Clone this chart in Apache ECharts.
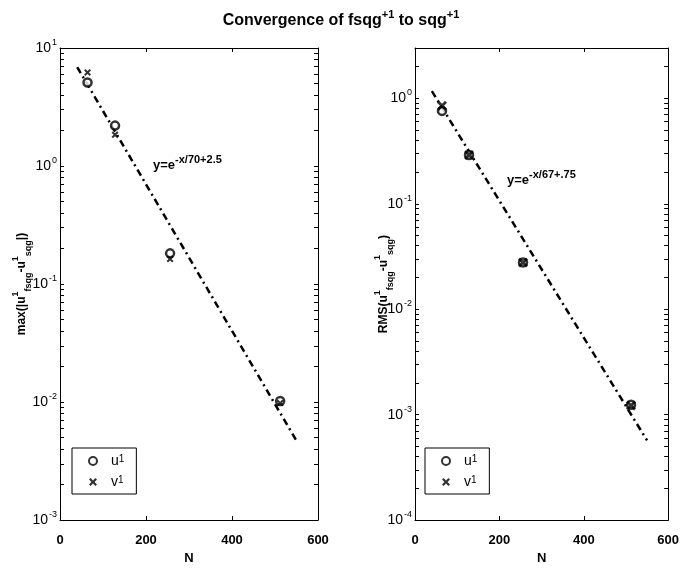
<!DOCTYPE html>
<html>
<head>
<meta charset="utf-8">
<script src="https://cdn.jsdelivr.net/npm/echarts@6/dist/echarts.min.js"></script>
<style>
  html, body { margin: 0; padding: 0; background: #fff; }
  #chart { width: 682px; height: 570px; }
</style>
</head>
<body>
<div id="chart"></div>
<script>
// resolution N
const nValues = [64, 128, 256, 512];
// left panel: max(|u1_fsqg - u1_sqg|)
const maxU = [5.1, 2.2, 0.182, 0.0102];
const maxV = [6.2, 1.84, 0.163, 0.0098];
// right panel: RMS(u1_fsqg - u1_sqg)
const rmsU = [0.76, 0.29, 0.0278, 0.00124];
const rmsV = [0.85, 0.29, 0.0278, 0.00122];
// fitted lines, read at both ends
const fitN = [40, 550];
const maxFit = [6.9, 0.0047];
const rmsFit = [1.17, 0.00057];
const xTicks = [0, 200, 400, 600];
const maxDecades = [0.001, 0.01, 0.1, 1, 10];
const rmsDecades = [0.0001, 0.001, 0.01, 0.1, 1];

const FONT = '"Liberation Sans", Arial, Helvetica, sans-serif';
const pts = (xs, ys) => xs.map((x, i) => [x, ys[i]]);
const crossPath = 'path://M0,2L2,0L5,3L8,0L10,2L7,5L10,8L8,10L5,7L2,10L0,8L3,5Z';

// log minor ticks (1..9 in every decade)
function logTicks(decades, max) {
  let out = [];
  decades.forEach(d => {
    for (let k = 1; k <= 9; k++) {
      let v = +(d * k).toPrecision(6);
      if (v <= max) out.push(v);
    }
  });
  return out;
}

const supRich = {
  b: { fontFamily: FONT, fontSize: 14, color: '#000', lineHeight: 20 },
  e: { fontFamily: FONT, fontSize: 9, color: '#000', verticalAlign: 'top', lineHeight: 12, padding: [0, 0, 0, 1] }
};

function xAxes(g) {
  let base = {
    gridIndex: g, type: 'value', min: xTicks[0], max: xTicks[xTicks.length - 1], interval: 200,
    axisLine: { onZero: false, lineStyle: { color: '#000', width: 1 } },
    axisTick: { inside: true, length: 4, lineStyle: { color: '#000' } },
    splitLine: { show: false }
  };
  return [
    Object.assign({}, base, {
      position: 'bottom',
      axisLabel: { color: '#000', fontFamily: FONT, fontSize: 13, fontWeight: 'bold', margin: 14 },
      name: 'N', nameLocation: 'middle', nameGap: 29,
      nameTextStyle: { color: '#000', fontFamily: FONT, fontSize: 13, fontWeight: 'bold' }
    }),
    Object.assign({}, base, { position: 'top', axisLabel: { show: false } })
  ];
}

function yAxes(g, decades, max, name, gap) {
  let min = decades[0];
  let base = {
    gridIndex: g, type: 'log', logBase: 10, min: min, max: max,
    axisLine: { onZero: false, lineStyle: { color: '#000', width: 1 } },
    axisTick: { inside: true, length: 4, customValues: logTicks(decades, max), lineStyle: { color: '#000' } },
    splitLine: { show: false },
    minorTick: { show: false }
  };
  return [
    Object.assign({}, base, {
      position: 'left',
      axisLabel: {
        customValues: decades, margin: 3,
        formatter: v => '{b|10}{e|' + Math.round(Math.log10(v)) + '}',
        rich: supRich
      },
      name: name, nameLocation: 'middle', nameRotate: 90, nameGap: gap, nameMoveOverlap: false,
      nameTextStyle: {
        color: '#000', fontFamily: FONT, fontSize: 12, fontWeight: 'bold', lineHeight: 22,
        rich: {
          p: { fontFamily: FONT, fontSize: 9, fontWeight: 'bold', color: '#000', verticalAlign: 'top', lineHeight: 12 },
          d: { fontFamily: FONT, fontSize: 9, fontWeight: 'bold', color: '#000', verticalAlign: 'bottom', lineHeight: 12 }
        }
      }
    }),
    Object.assign({}, base, { position: 'right', axisLabel: { show: false } })
  ];
}

function markers(g, u, v, crossSize) {
  return [
    {
      name: 'u1', type: 'scatter', xAxisIndex: 2 * g, yAxisIndex: 2 * g, z: 5,
      symbol: 'circle', symbolSize: 8,
      itemStyle: { color: '#fff', borderColor: '#000', borderWidth: 2.5 },
      data: pts(nValues, u)
    },
    {
      name: 'v1', type: 'scatter', xAxisIndex: 2 * g, yAxisIndex: 2 * g, z: 6,
      symbol: crossPath, symbolSize: crossSize,
      itemStyle: { color: '#000' },
      data: pts(nValues, v)
    }
  ];
}

function fitLine(g, ys) {
  return {
    name: 'fit', type: 'line', xAxisIndex: 2 * g, yAxisIndex: 2 * g, z: 3,
    showSymbol: false, symbol: 'none',
    lineStyle: { color: '#000', width: 2.5, type: [7, 4, 2, 4] },
    data: pts(fitN, ys)
  };
}

function legendAt(left) {
  return {
    orient: 'vertical', left: left, top: 448,
    data: ['u1', 'v1'],
    itemWidth: 8, itemHeight: 8, itemGap: 7,
    padding: [6, 12, 5, 16],
    borderColor: '#000', borderWidth: 1, backgroundColor: '#fff',
    selectedMode: false,
    formatter: n => n.charAt(0) + '{s|1}',
    textStyle: {
      color: '#000', fontFamily: FONT, fontSize: 14, lineHeight: 14, padding: [0, 0, 0, 9],
      rich: { s: { fontFamily: FONT, fontSize: 10, color: '#000', verticalAlign: 'top', lineHeight: 10 } }
    }
  };
}

const annRich = {
  b: { fontFamily: FONT, fontSize: 13, fontWeight: 'bold', color: '#000', lineHeight: 22 },
  s: { fontFamily: FONT, fontSize: 11, fontWeight: 'bold', color: '#000', verticalAlign: 'top', lineHeight: 10 }
};

const option = {
  animation: false,
  backgroundColor: '#fff',
  title: {
    text: 'Convergence of fsqg{s|+1} to sqg{s|+1}',
    left: 'center', top: 4,
    textStyle: {
      color: '#000', fontFamily: FONT, fontSize: 16, fontWeight: 'bold', lineHeight: 24,
      rich: { s: { fontFamily: FONT, fontSize: 11, fontWeight: 'bold', color: '#000', verticalAlign: 'top', lineHeight: 12 } }
    }
  },
  grid: [
    { left: 60, width: 258, top: 48, bottom: 40 },
    { left: 415, width: 258, top: 48, bottom: 40 }
  ],
  xAxis: [].concat(xAxes(0), xAxes(1)),
  yAxis: [].concat(
    yAxes(0, maxDecades, 10, 'max(|u{p|1}{d|fsqg}-u{p|1}{d|sqg}|)', 27),
    yAxes(1, rmsDecades, 3, 'RMS(u{p|1}{d|fsqg}-u{p|1}{d|sqg})', 20)
  ),
  legend: [legendAt(72), legendAt(425)],
  graphic: [
    { type: 'text', left: 153, top: 154, style: { text: '{b|y=e}{s|-x/70+2.5}', rich: annRich } },
    { type: 'text', left: 507, top: 169, style: { text: '{b|y=e}{s|-x/67+.75}', rich: annRich } }
  ],
  series: [].concat(
    [fitLine(0, maxFit)], markers(0, maxU, maxV, 7),
    [fitLine(1, rmsFit)], markers(1, rmsU, rmsV, 10)
  )
};

const chart = echarts.init(document.getElementById('chart'));
chart.setOption(option);
</script>
</body>
</html>
